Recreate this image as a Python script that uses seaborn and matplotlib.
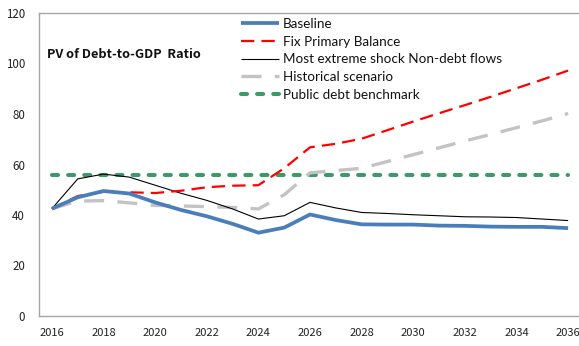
import matplotlib
matplotlib.use("Agg")
import matplotlib.pyplot as plt
import seaborn as sns
import numpy as np
import pandas as pd

years = list(range(2016, 2037))
year_labels = [str(y) if (y - 2016) % 2 == 0 else "" for y in years]

baseline = [42.5, 47.0, 49.5, 48.5, 45.0, 42.0, 39.5, 36.5, 33.0, 35.0, 40.2,
            38.0, 36.3, 36.2, 36.2, 35.8, 35.7, 35.4, 35.3, 35.3, 34.8]
fix_primary = [42.5, 47.5, 49.2, 49.0, 48.7, 49.6, 51.0, 51.6, 51.8, 58.5, 66.8,
               68.2, 70.2, 73.6, 77.0, 80.3, 83.5, 86.8, 90.2, 93.6, 97.2]
extreme_shock = [42.5, 54.3, 56.2, 55.0, 51.8, 48.6, 45.8, 42.4, 38.4, 39.7, 45.0,
                 42.8, 41.0, 40.6, 40.1, 39.7, 39.3, 39.2, 39.0, 38.4, 37.8]
historical = [42.5, 45.5, 45.7, 44.8, 43.8, 43.6, 43.3, 43.0, 42.4, 48.0, 56.7,
              57.6, 58.5, 61.2, 63.9, 66.6, 69.3, 71.9, 74.6, 77.3, 80.2]
benchmark = [56.0] * len(years)

series_names = ["Baseline", "Fix Primary Balance", "Most extreme shock Non-debt flows",
                "Historical scenario", "Public debt benchmark"]
series_values = [baseline, fix_primary, extreme_shock, historical, benchmark]

styles = {
    "Baseline": dict(color="#4a7ebb", lw=2.7, dashes=None, cap="butt"),
    "Fix Primary Balance": dict(color="#ff0000", lw=1.6, dashes=(6.0, 3.2), cap="butt"),
    "Most extreme shock Non-debt flows": dict(color="#000000", lw=0.8, dashes=None, cap="butt"),
    "Historical scenario": dict(color="#c3c3c3", lw=2.4, dashes=(6.0, 4.0), cap="butt"),
    "Public debt benchmark": dict(color="#3a9a68", lw=2.9, dashes=(1.5, 2.5), cap="round"),
}

sns.set_style("white")
plt.rcParams["font.family"] = ["Noto Sans CJK KR", "DejaVu Sans"]

fig = plt.figure(figsize=(5.79, 3.46), dpi=100)
ax = fig.add_axes([39 / 579, 30 / 346, 542 / 579, 303 / 346])

x_idx = np.arange(len(years))
draw_order = ["Public debt benchmark", "Historical scenario", "Most extreme shock Non-debt flows",
              "Fix Primary Balance", "Baseline"]
lines = {}
for name in draw_order:
    vals = series_values[series_names.index(name)]
    st = styles[name]
    df = pd.DataFrame({"x": x_idx, "y": vals})
    sns.lineplot(data=df, x="x", y="y", ax=ax, color=st["color"], linewidth=st["lw"],
                 legend=False)
    ln = ax.get_lines()[-1]
    if st["dashes"] is not None:
        ln.set_dashes(st["dashes"])
    ln.set_dash_capstyle(st["cap"])
    ln.set_solid_capstyle("butt")
    ln.set_solid_joinstyle("miter")
    lines[name] = ln

ax.set_xlim(-0.5, len(years) - 0.5)
ax.set_ylim(0, 120)
ax.set_yticks(np.arange(0, 121, 20))
ax.set_xticks(x_idx)
ax.set_xticklabels(year_labels)
ax.set_xticks(np.arange(-0.5, len(years), 1.0), minor=True)
ax.tick_params(axis="x", which="major", length=0, pad=9, labelsize=8, colors="#222222")
ax.tick_params(axis="x", which="minor", length=4, width=0.8, color="#a6a6a6", direction="out")
ax.tick_params(axis="y", length=2, width=0.8, direction="in", pad=10, labelsize=8.3,
               color="#a6a6a6", labelcolor="#222222")
ax.set_xlabel("")
ax.set_ylabel("")

for side in ["left", "bottom", "top", "right"]:
    ax.spines[side].set_color("#a6a6a6")
    ax.spines[side].set_linewidth(1.0)

fig.text(47 / 579, 1 - 55 / 346, "PV of Debt-to-GDP  Ratio", fontsize=9.2,
         fontweight="bold", va="center", ha="left", color="#111111")

handles = [lines[n] for n in series_names]
leg = ax.legend(handles, series_names, loc="upper left",
                bbox_to_anchor=(241 / 579, 1 - 18 / 346), bbox_transform=fig.transFigure,
                frameon=False, handlelength=2.8, handletextpad=0.3, labelspacing=0.42,
                borderaxespad=0, borderpad=0,
                prop={"family": ["Lato", "DejaVu Sans"], "size": 9.7})
for t in leg.get_texts():
    t.set_color("#111111")

fig.savefig("out.png", dpi=100)
